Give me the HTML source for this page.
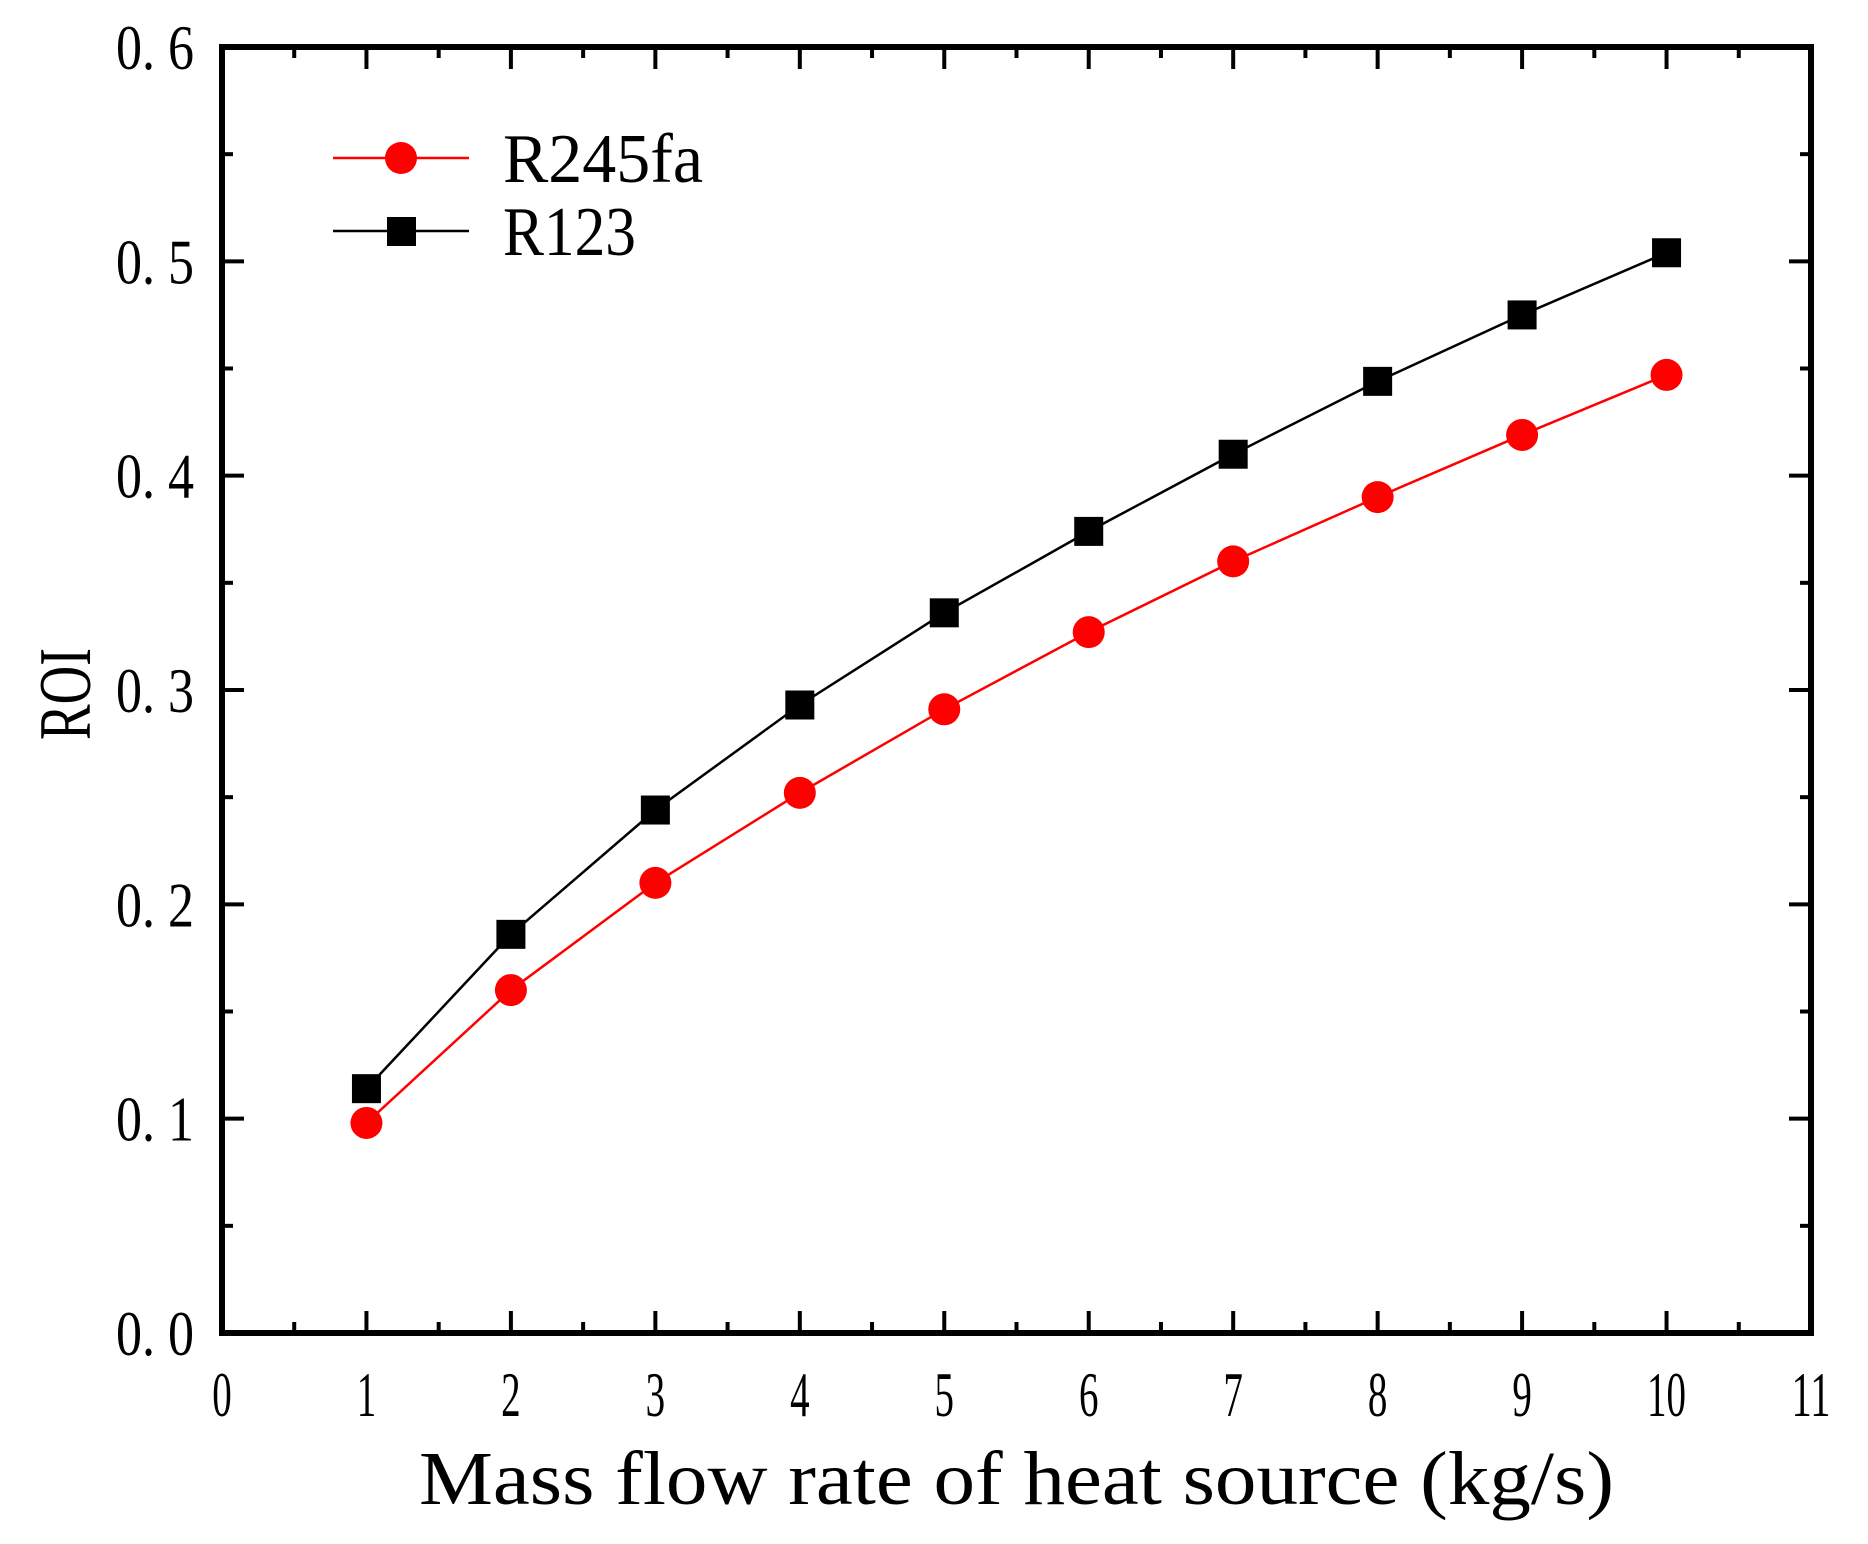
<!DOCTYPE html>
<html><head><meta charset="utf-8"><style>
html,body{margin:0;padding:0;background:#fff;}
svg{display:block;}
text{font-family:"Liberation Serif",serif;fill:#000;}
</style></head><body>
<svg id="chart" width="1868" height="1544" viewBox="0 0 1868 1544" xmlns="http://www.w3.org/2000/svg">
<g id="axes"></g>
<g id="series"></g>
<g id="legend"></g>
<text x="419" y="1504" font-size="76" textLength="1195" lengthAdjust="spacingAndGlyphs">Mass flow rate of heat source (kg/s)</text>
<text transform="translate(90,740) rotate(-90)" font-size="74" textLength="92" lengthAdjust="spacingAndGlyphs">ROI</text>
</svg>
<script>
const categories = [1,2,3,4,5,6,7,8,9,10];
const r245faValues = [0.098,0.160,0.210,0.252,0.291,0.327,0.360,0.390,0.419,0.447];
const r123Values = [0.114,0.186,0.244,0.293,0.336,0.374,0.410,0.444,0.475,0.504];
const xTickLabels = ["0","1","2","3","4","5","6","7","8","9","10","11"];
const yTickLabels = ["0. 0","0. 1","0. 2","0. 3","0. 4","0. 5","0. 6"];

const NS='http://www.w3.org/2000/svg';
const L=222,R=1811,T=47,B=1333;
const xMin=0,xMax=11,yMin=0,yMax=0.6;
function xs(v){return L+(v-xMin)/(xMax-xMin)*(R-L);}
function ys(v){return B-(v-yMin)/(yMax-yMin)*(B-T);}
function mk(tag,attrs,parent){const e=document.createElementNS(NS,tag);for(const k in attrs)e.setAttribute(k,attrs[k]);parent.appendChild(e);return e;}
const axes=document.getElementById('axes');
const series=document.getElementById('series');
const legend=document.getElementById('legend');

const frame=mk('rect',{x:L,y:T,width:R-L,height:B-T,fill:'none',stroke:'#000','stroke-width':6},axes);



for(let i=0;i<=22;i++){
  const v=i*0.5, x=xs(v), len=(i%2===0)?22:11;
  const tb=mk('line',{x1:x,y1:B,x2:x,y2:B-len,stroke:'#000','stroke-width':4},axes);
  
  
  const tt=mk('line',{x1:x,y1:T,x2:x,y2:T+len,stroke:'#000','stroke-width':4},axes);
  
  
}
xTickLabels.forEach((s,i)=>{
  const x=xs(i);
  const w=s.length*19.5;
  const t=mk('text',{x:x-w/2,y:1416,'font-size':64,textLength:w,lengthAdjust:'spacingAndGlyphs'},axes);
  t.textContent=s;
  
  
});
for(let i=0;i<=12;i++){
  const v=i*0.05, y=ys(v), len=(i%2===0)?22:11;
  const tl=mk('line',{x1:L,y1:y,x2:L+len,y2:y,stroke:'#000','stroke-width':4},axes);
  
  
  const tr=mk('line',{x1:R,y1:y,x2:R-len,y2:y,stroke:'#000','stroke-width':4},axes);
  
  
}
yTickLabels.forEach((s,i)=>{
  const y=ys(i*0.1);
  const t=mk('text',{x:116,y:y+22,'font-size':64,textLength:78,lengthAdjust:'spacingAndGlyphs'},axes);
  t.textContent=s;
  
  
});

function drawLine(vals,color,name){
  const pts=categories.map((c,i)=>xs(c)+','+ys(vals[i])).join(' ');
  const p=mk('polyline',{points:pts,fill:'none',stroke:color,'stroke-width':2.5},series);
  
  
}
drawLine(r245faValues,'#ff0000','r245fa');
drawLine(r123Values,'#000000','r123');
categories.forEach((c,i)=>{
  const sq=mk('rect',{x:xs(c)-14.5,y:ys(r123Values[i])-14.5,width:29,height:29,fill:'#000'},series);
  
  
  const ci=mk('circle',{cx:xs(c),cy:ys(r245faValues[i]),r:16,fill:'#ff0000'},series);
  
  
});

const l1=mk('line',{x1:333,y1:158,x2:469,y2:158,stroke:'#ff0000','stroke-width':2.5},legend);


const c1=mk('circle',{cx:401,cy:158,r:16,fill:'#ff0000'},legend);


const t1=mk('text',{x:503,y:182,'font-size':70,textLength:200,lengthAdjust:'spacingAndGlyphs'},legend);
t1.textContent='R245fa';


const l2=mk('line',{x1:333,y1:231,x2:469,y2:231,stroke:'#000','stroke-width':2.5},legend);


const s2=mk('rect',{x:387,y:217,width:29,height:29,fill:'#000'},legend);


const t2=mk('text',{x:503,y:255,'font-size':70,textLength:133,lengthAdjust:'spacingAndGlyphs'},legend);
t2.textContent='R123';


</script>
</body></html>
